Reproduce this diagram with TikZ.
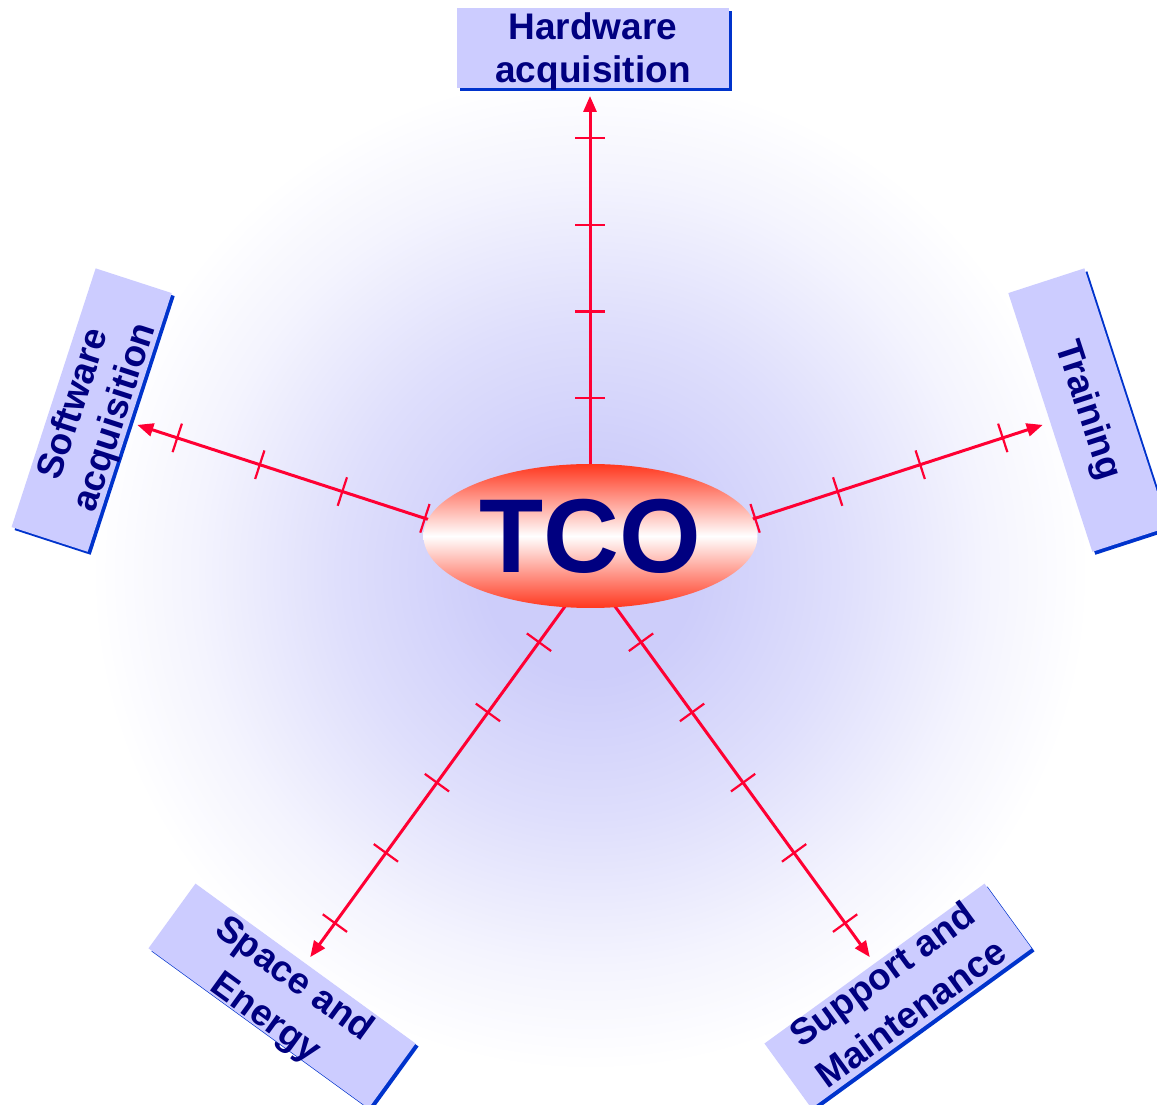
\documentclass[tikz,border=0pt]{standalone}
\usepackage{fontspec}
\setmainfont{Liberation Sans}
\usetikzlibrary{calc,arrows.meta,shapes.geometric}

\definecolor{boxfill}{RGB}{204,204,255}
\definecolor{boxshade}{RGB}{0,51,204}
\definecolor{labelnavy}{RGB}{0,0,128}
\definecolor{rayred}{RGB}{255,0,51}
\definecolor{ovalred}{RGB}{255,55,30}
\definecolor{haze}{RGB}{205,205,250}

% soft lavender halo behind the star of arrows (25bp = circle radius)
\pgfdeclareradialshading{halo}{\pgfpoint{0bp}{0bp}}{%
  color(0bp)=(haze); color(5bp)=(haze); color(12bp)=(haze!65!white);
  color(19bp)=(haze!22!white); color(24bp)=(white); color(50bp)=(white)}

% stacked, centred lines whose last baseline sits #1 above the box centre
\newcommand\boxlines[3]{\raisebox{#1}[0pt][0pt]{\vbox{\baselineskip=#2\halign{\hfil##\hfil\cr#3\crcr}}}}

\begin{document}
\begin{tikzpicture}[x=1pt,y=1pt,
  labelbox/.style={fill=boxfill, minimum width=272pt, minimum height=80pt, inner sep=0pt,
    text=labelnavy, font=\fontsize{37}{43}\selectfont\bfseries,
    preaction={fill=boxshade, transform canvas={shift={(3pt,-3pt)}}}},
  ray/.style={draw=rayred, line width=3pt, -{Triangle[length=16pt,width=13pt]}},
  tickmark/.style={draw=rayred, line width=2.2pt},
  hub/.style={ellipse, minimum width=334pt, minimum height=144pt, inner sep=0pt,
    top color=ovalred, bottom color=ovalred, middle color=white,
    text=labelnavy, font=\fontsize{105}{110}\selectfont\bfseries}
]
\useasboundingbox (0,0) rectangle (1157,1104);
\clip (0,0) rectangle (1157,1104);
\fill[white] (0,0) rectangle (1157,1104);

\coordinate (O) at (590,532);
\shade[shading=halo] (O) circle (520);

% the five cost categories
\node[labelbox] (hw) at ($(O)+(90:524)+(3,0)$) {\boxlines{-35pt}{43pt}{Hardware\cr acquisition}};
\node[labelbox, rotate=72] (sw) at ($(O)+(162:524)$) {\boxlines{-35pt}{43pt}{Software\cr acquisition}};
\node[labelbox, rotate=-72] (tr) at ($(O)+(18:524)$) {\boxlines{-11pt}{43pt}{Training}};
\node[labelbox, rotate=-36] (se) at ($(O)+(234:524)$) {\boxlines{-38pt}{48pt}{Space and\cr Energy}};
\node[labelbox, rotate=36] (sm) at ($(O)+(306:524)$) {\boxlines{-34pt}{48pt}{Support and\cr Maintenance}};

% graduated arrows from the hub to each category
\foreach \t/\a in {hw/90,sw/162,tr/18,se/234,sm/306}{
  \coordinate (end-\t) at ($(O)+(\a:476)$);
  \draw[ray] (O) -- (end-\t);
  \foreach \k in {1,...,5}{
    \pgfmathsetmacro\d{86.8*\k}
    \coordinate (p) at ($(O)!\d pt!(end-\t)$);
    \draw[tickmark] ($(p)!15pt!90:(end-\t)$) -- ($(p)!15pt!-90:(end-\t)$);
  }
}

\node[hub] (tco) at (590.5,568) {TCO};
\end{tikzpicture}
\end{document}
